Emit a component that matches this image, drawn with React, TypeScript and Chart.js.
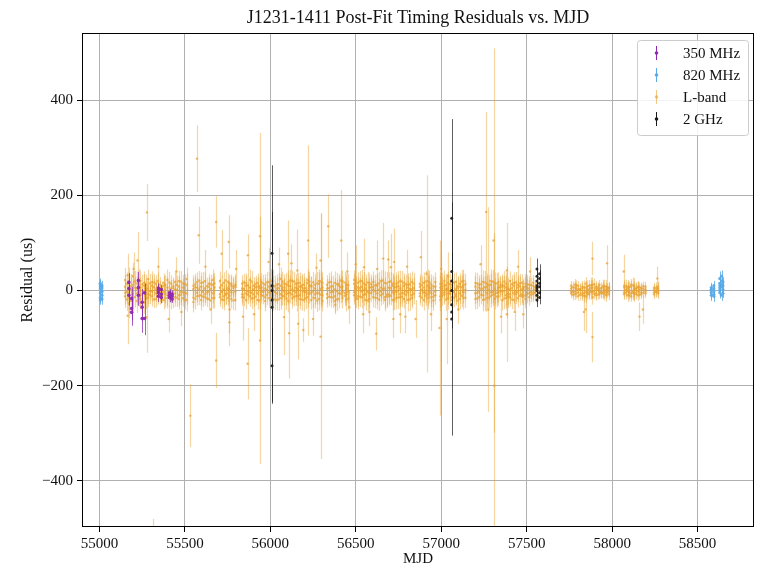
import React, { useEffect, useRef } from 'react';
import { Chart, registerables } from 'chart.js';

Chart.register(...registerables);

const FONT = '"Liberation Serif", "Times New Roman", serif';

const titleText = 'J1231-1411 Post-Fit Timing Residuals vs. MJD';
const xLabel = 'MJD';
const yLabel = 'Residual (us)';
const xTicks = [55000, 55500, 56000, 56500, 57000, 57500, 58000, 58500];
const yTicks = [-400, -200, 0, 200, 400];
const seriesLabels = ['350 MHz', '820 MHz', 'L-band', '2 GHz'];

// ---- L-band, set A: per-epoch TOAs (same MJD, several residuals), typical error per epoch
const lbandEpochMjdA = [
  55150, 55172, 55195, 55218, 55240, 55262, 55285, 55308, 55330, 55352, 55375, 55398, 55420, 55443, 55465, 55488, 55510,
  55550, 55572, 55595, 55618, 55640, 55662, 55705, 55728, 55750, 55772, 55795,
  55835, 55858, 55880, 55903, 55925, 55948, 55970, 55992, 56015, 56038, 56060, 56082, 56105, 56128, 56150, 56172, 56195,
  56218, 56240, 56262, 56285, 56305, 56332, 56355, 56378, 56400, 56422, 56445,
  56490, 56512, 56535, 56558, 56580, 56602, 56625, 56648, 56670, 56692, 56715, 56738, 56760, 56782, 56805, 56828,
  56875, 56898, 56920, 56942, 56965, 56995, 57018, 57040, 57062, 57085, 57108, 57130,
  57200, 57222, 57245, 57268, 57290, 57312, 57335, 57358, 57380, 57402, 57425, 57448, 57470, 57492, 57515, 57538, 57558,
  57760, 57780, 57800, 57825, 57845, 57865, 57885, 57905, 57925, 57945, 57965, 57980,
  58070, 58090, 58110, 58130, 58150, 58170, 58195, 58245, 58268,
];
const lbandEpochResA = [
  [8, -12, 22, -5], [-15, 5, 18, -28], [12, -8, -20, 30], [-6, 15, -22, 4], [20, -10, 6, -18], [-25, 10, -4, 16],
  [5, -15, 24, -8], [-12, 18, -2, 10], [14, -6, -18, 2], [-8, 12, 4, -14], [10, -20, 16, -4], [-16, 6, 22, -10],
  [4, -8, 14, -22], [18, -14, 2, -6], [-10, 20, -18, 8], [6, -4, 15, -16], [-20, 12, -6, 24],
  [10, -15, 3, -24], [-5, 18, -12, 6], [16, -10, 8, -20], [-14, 4, 20, -8], [8, -18, -2, 14], [-6, 12, -16, 22],
  [20, -8, 6, -14], [-12, 16, -20, 2], [4, -6, 18, -16], [-18, 10, -4, 14], [12, -20, 8, -2],
  [-8, 14, -14, 4], [16, -6, -20, 10], [-4, 22, -12, 6], [10, -16, 2, -8], [-20, 8, 16, -6], [6, -10, -2, 18],
  [-14, 12, 4, -22], [18, -4, -16, 8], [-10, 6, 20, -18], [4, -20, 12, -6], [-16, 10, -8, 24], [14, -12, 6, -2],
  [-6, 18, -22, 10], [20, -8, 2, -16], [-12, 14, -4, 6], [8, -18, 16, -10], [-20, 4, 12, -2],
  [16, -6, -14, 22], [-4, 10, -20, 8], [12, -16, 4, -8], [-18, 20, -6, 14], [6, -10, 16, -22],
  [-8, 12, -16, 4], [18, -4, 8, -14], [-12, 16, -22, 2], [10, -6, 14, -18], [-16, 8, -2, 20], [4, -20, 12, -8],
  [-10, 14, -4, 22], [16, -12, 6, -18], [-2, 20, -14, 8], [12, -8, -20, 4], [-18, 6, 16, -6], [8, -14, 2, 18],
  [-6, 12, -16, 10], [20, -2, -10, 6], [-14, 16, 4, -20], [6, -8, 18, -12], [-20, 10, -4, 14], [14, -16, 8, -2],
  [-8, 4, 20, -14], [10, -18, -6, 16], [-4, 12, -20, 6], [18, -10, 2, -16],
  [-12, 8, 14, -6], [6, -20, -4, 16], [-16, 10, 20, -8], [12, -6, -14, 4], [-2, 18, -10, 8],
  [14, -12, 6, -20], [-8, 20, -4, 10], [4, -16, 16, -6], [-14, 6, -20, 12], [18, -8, 2, -12], [-6, 14, -18, 8],
  [10, -4, 20, -16],
  [-18, 8, -6, 16], [6, -14, 12, -2], [-10, 18, -20, 4], [14, -6, 8, -16], [-4, 12, -12, 20], [16, -18, 4, -8],
  [-12, 6, 18, -4], [8, -20, -2, 12], [-16, 14, 6, -10], [2, -8, 20, -14], [-20, 10, -6, 16], [12, -4, -16, 6],
  [-8, 16, 2, -12], [14, -10, 8, -18], [-6, 12, -14, 4], [10, -8, 16, -4], [-12, 6, -2, 12],
  [4, -6, 10, -2], [-8, 6, -2, 12], [10, -4, -12, 2], [-6, 8, 4, -10], [6, -12, 14, -4], [-4, 10, -8, 2],
  [12, -2, -14, 6], [-10, 4, 8, -6], [2, -8, 12, -2], [-6, 10, -4, 6], [8, -10, 2, -4], [-2, 6, -8, 4],
  [6, -4, 10, -8], [-10, 4, -2, 8], [8, -6, 12, -12], [-4, 10, -8, 2], [6, -2, -10, 8], [-8, 4, 6, -4],
  [2, -6, 8, -2], [-4, 6, 2, -8], [8, -2, -6, 4],
];
const lbandEpochErrA = [
  25, 30, 28, 25, 22, 24, 20, 22, 18, 16, 20, 22, 18, 20, 22, 18, 24,
  22, 20, 22, 18, 20, 22, 20, 22, 18, 20, 22,
  18, 20, 22, 18, 20, 18, 22, 20, 24, 22, 24, 20, 24, 22, 20, 22, 24,
  22, 20, 22, 24, 22, 20, 22, 24, 20, 22, 24,
  20, 22, 24, 22, 20, 22, 24, 22, 24, 20, 22, 24, 22, 20, 24, 22,
  20, 22, 24, 22, 20, 24, 22, 24, 22, 20, 22, 24,
  22, 20, 24, 22, 24, 22, 20, 22, 24, 20, 22, 20, 18, 20, 18, 16, 14,
  10, 12, 10, 12, 14, 12, 16, 12, 10, 12, 14, 12,
  12, 14, 12, 16, 12, 10, 10, 10, 12,
];

// ---- L-band, set B: epochs in between
const lbandEpochMjdB = [
  55161, 55184, 55206, 55229, 55251, 55274, 55296, 55319, 55341, 55364, 55386, 55409, 55432, 55454, 55477, 55499,
  55561, 55584, 55606, 55629, 55651, 55673, 55716, 55739, 55761, 55784,
  55846, 55869, 55891, 55914, 55937, 55959, 55981, 56004, 56027, 56049, 56071, 56094, 56116, 56139, 56161, 56184, 56206, 56229, 56251, 56274, 56296,
  56343, 56366, 56389, 56411, 56434, 56456,
  56501, 56524, 56546, 56569, 56591, 56614, 56636, 56659, 56681, 56704, 56726, 56749, 56771, 56794, 56816, 56839,
  56886, 56909, 56931, 56954, 57006, 57029, 57051, 57074, 57096, 57119, 57141,
  57211, 57234, 57256, 57279, 57301, 57324, 57346, 57369, 57391, 57414, 57436, 57459, 57481, 57504, 57526, 57548,
  57770, 57790, 57812, 57835, 57855, 57875, 57895, 57915, 57935, 57955, 57972,
  58080, 58100, 58120, 58140, 58160, 58182, 58256,
];
const lbandEpochResB = [
  [-3, 14, -19], [9, -22, 2], [-14, 6, 19], [21, -4, -11], [-7, 13, -24], [3, -17, 11], [15, -9, -1], [-19, 7, 17],
  [5, -12, 20], [-10, 3, -6], [12, -7, -16], [-2, 17, -13], [9, -19, 5], [-15, 11, 1], [19, -3, -9], [-6, 14, -20],
  [7, -18, 13], [-11, 2, 21], [17, -13, -3], [-4, 9, -17], [13, -21, 3], [-16, 7, 15], [11, -3, -19], [-7, 21, -9],
  [15, -11, 1], [-21, 5, 9],
  [3, -15, 17], [-9, 11, -1], [19, -5, -17], [-13, 7, 13], [5, -21, 9], [-3, 15, -11], [17, -9, 1], [-15, 21, -5],
  [9, -3, -19], [-19, 13, 5], [1, -11, 19], [13, -17, -7], [-5, 9, 21], [19, -13, -1], [-11, 3, 15], [7, -19, 11],
  [-17, 5, -3], [11, -7, 19], [-1, 17, -15], [15, -5, -21], [-9, 19, 3],
  [5, -13, 17], [-15, 9, -3], [13, -1, -19], [-7, 21, 7], [17, -11, -5], [-3, 11, -17],
  [9, -17, 3], [-13, 5, 19], [1, -9, 15], [17, -21, -3], [-5, 13, 7], [11, -1, -15], [-19, 15, 1], [3, -7, 21],
  [15, -13, -9], [-11, 19, 5], [7, -3, -19], [-15, 9, 17], [19, -5, -13], [-1, 13, -9], [13, -19, 3], [-7, 5, 15],
  [11, -15, 1], [-5, 19, -11], [17, -3, 7], [-13, 9, -21], [5, -11, 15], [-19, 3, 11], [13, -7, -1], [-3, 17, -15],
  [9, -21, 5], [-11, 7, 19], [1, -15, 13],
  [15, -5, -17], [-9, 13, 3], [7, -19, 17], [-15, 1, 11], [19, -9, -3], [-5, 15, -13], [11, -1, 7], [-17, 9, 19],
  [3, -13, -7], [13, 5, -19], [-7, 17, -1], [9, -11, 15], [-13, 3, 7], [5, -7, 13], [-9, 11, -3], [7, -5, 1],
  [-3, 7, -9], [5, -7, 11], [-9, 3, 1], [7, -5, -11], [-1, 9, -7], [11, -3, 5], [-7, 13, -1], [3, -9, 7],
  [-5, 5, -3], [9, -1, -7], [-3, 7, 3],
  [-5, 9, 1], [7, -3, -9], [-1, 11, -5], [5, -7, 3], [-9, 1, 7], [3, -5, 9], [-3, 5, -1],
];
const lbandEpochErrB = [
  24, 26, 22, 24, 20, 22, 20, 18, 18, 16, 20, 22, 18, 20, 22, 20,
  22, 20, 22, 18, 20, 22, 20, 22, 18, 20,
  18, 20, 22, 18, 20, 18, 22, 24, 22, 24, 20, 24, 22, 20, 22, 24, 22, 20, 22, 24, 22,
  20, 22, 24, 20, 22, 24,
  20, 22, 24, 22, 20, 22, 24, 22, 24, 20, 22, 24, 22, 20, 24, 22,
  20, 22, 24, 22, 22, 24, 22, 20, 22, 24, 22,
  22, 20, 24, 22, 24, 22, 20, 22, 24, 20, 22, 20, 18, 20, 16, 14,
  12, 10, 12, 14, 12, 16, 12, 10, 12, 14, 12,
  14, 12, 16, 12, 10, 10, 12,
];

// ---- L-band: individual TOAs with large uncertainties
const lbandOutMjd = [
  55165, 55223, 55278, 55165, 55276, 55311, 55405, 55532, 55571, 55581, 55683, 55683, 55715, 55757, 55761, 55761,
  55840, 55869, 55867, 55940, 55940, 56080, 56104, 56110, 56123, 56158, 56163, 56193, 56221, 56294, 56294, 56339,
  56380, 56415, 56450, 56462, 56543, 56548, 56620, 56625, 56660, 56705, 56725, 56760, 56790, 56881, 56850, 56914,
  56990, 57032, 57040, 57100, 57263, 57275, 57306, 57310, 57384, 57384, 57430, 57480,
  57885, 57885, 57970, 57845, 57835, 58068, 58180, 58160, 58265,
  55200, 55345, 55450, 55480, 55620, 55650, 55800, 55905, 55990, 56050, 56250, 56270, 56500, 56580, 56690, 56720,
  56800, 56940, 57000, 57230, 57350, 57450, 57520,
];
const lbandOutRes = [
  32, 63, 164, -53, -56, -570, -60, -263, 277, 116, 144, -147, 77, 102, -40, -67,
  -55, 74, -154, 114, -105, -56, 77, -90, 57, 42, -70, -83, 105, 63, -97, 135,
  -30, 105, 40, -35, -50, 49, -91, 45, 67, 49, 60, -50, -55, 70, -60, 35,
  -79, -60, 30, -40, 165, -40, 105, -200, 42, -50, -45, -50,
  67, -98, 57, -40, -45, 40, -40, -55, 25,
  45, 50, 40, -45, 50, -40, 45, -50, 60, 55, -60, 48, 55, -45, 65, -60,
  50, -50, 45, 55, -55, 50, 40,
];
const lbandOutErr = [
  45, 60, 60, 60, 75, 90, 28, 66, 70, 60, 54, 58, 50, 56, 50, 50,
  50, 44, 75, 217, 260, 80, 70, 95, 40, 86, 75, 25, 200, 100, 257, 67,
  20, 106, 40, 35, 40, 60, 35, 60, 75, 70, 70, 40, 35, 55, 40, 207,
  184, 95, 50, 30, 210, 215, 404, 320, 100, 100, 40, 30,
  35, 53, 38, 50, 40, 35, 30, 30, 25,
  35, 40, 30, 30, 35, 30, 40, 35, 30, 35, 35, 30, 40, 30, 40, 40,
  35, 35, 30, 40, 35, 35, 30,
];

// ---- 350 MHz
const mhz350Mjd = [55172, 55172, 55172, 55188, 55188, 55188, 55228, 55228, 55228, 55250, 55250, 55250, 55264, 55264,
  55345, 55345, 55345, 55345, 55362, 55362, 55362, 55410, 55410, 55410, 55425, 55425, 55425];
const mhz350Res = [17, 4, -10, -17, -38, -46, 21, 6, -10, -25, -59, -35, -5, -59,
  0, -5, -12, 5, -8, -15, 2, -5, -10, -15, -8, -12, -18];
const mhz350Err = [20, 18, 22, 25, 25, 28, 18, 20, 22, 28, 30, 30, 20, 35,
  10, 10, 12, 10, 10, 12, 10, 8, 8, 10, 8, 8, 8];

// ---- 820 MHz
const mhz820Mjd = [55005, 55005, 55005, 55005, 55005, 55005, 55005, 55015, 55015, 55015, 55015, 55015,
  58580, 58580, 58580, 58580, 58580, 58595, 58595, 58595, 58595, 58595,
  58630, 58630, 58630, 58630, 58630, 58630, 58640, 58640, 58640, 58640, 58640, 58648, 58648, 58648, 58648];
const mhz820Res = [-5, 8, -15, 12, -20, 3, 15, -10, 5, -2, 10, -18,
  -5, 2, -10, 6, 0, -8, 4, -2, 10, -12,
  5, 15, 25, 0, -5, 10, 20, 8, -10, 12, 30, 2, 10, -6, 18];
const mhz820Err = [10, 10, 12, 10, 10, 8, 10, 10, 8, 10, 10, 12,
  12, 10, 12, 10, 10, 10, 10, 8, 10, 12,
  15, 14, 15, 12, 12, 14, 12, 12, 12, 12, 12, 10, 10, 10, 10];

// ---- 2 GHz
const ghz2Mjd = [56010, 56010, 56010, 56010, 56010, 56010,
  57061, 57061, 57061, 57061, 57061, 57061, 57061,
  57560, 57560, 57560, 57560, 57560, 57560, 57560, 57560, 57575, 57575, 57575, 57575, 57575, 57575];
const ghz2Res = [78, -35, -158, 0, 10, -20,
  152, -60, 0, 20, -30, 40, -45,
  -10, 5, 20, 30, 45, -20, 10, 0, 15, -5, 25, 35, -15, 8];
const ghz2Err = [185, 200, 80, 40, 30, 25,
  208, 245, 30, 25, 30, 40, 35,
  15, 12, 15, 18, 22, 15, 12, 10, 15, 12, 18, 20, 14, 10];

const COLORS = {
  purple: [142, 40, 178],
  blue: [88, 170, 232],
  orange: [232, 163, 52],
  black: [25, 25, 25],
};
const rgba = (c: number[], a: number) => `rgba(${c[0]},${c[1]},${c[2]},${a})`;

type Pt = { x: number; y: number; e: number };

function zipPoints(m: number[], r: number[], e: number[]): Pt[] {
  return m.map((x, i) => ({ x, y: r[i], e: e[i] }));
}

function epochPoints(m: number[], r: number[][], e: number[]): Pt[] {
  const pts: Pt[] = [];
  m.forEach((x, i) => {
    (r[i] || []).forEach((y) => pts.push({ x, y, e: e[i] ?? 20 }));
  });
  return pts;
}

function lbandPoints(): Pt[] {
  return epochPoints(lbandEpochMjdA, lbandEpochResA, lbandEpochErrA)
    .concat(epochPoints(lbandEpochMjdB, lbandEpochResB, lbandEpochErrB))
    .concat(zipPoints(lbandOutMjd, lbandOutRes, lbandOutErr));
}

const errorBarPlugin = {
  id: 'errorBars',
  beforeDatasetDraw(chart: any, args: any) {
    const ds = chart.data.datasets[args.index];
    const { ctx, chartArea } = chart;
    const xs = chart.scales.x;
    const ys = chart.scales.y;
    ctx.save();
    ctx.beginPath();
    ctx.rect(chartArea.left, chartArea.top, chartArea.right - chartArea.left, chartArea.bottom - chartArea.top);
    ctx.clip();
    ctx.strokeStyle = ds.errColor;
    ctx.lineWidth = ds.errWidth || 1;
    ds.data.forEach((p: Pt) => {
      const px = Math.round(xs.getPixelForValue(p.x)) + 0.5;
      ctx.beginPath();
      ctx.moveTo(px, ys.getPixelForValue(p.y + p.e));
      ctx.lineTo(px, ys.getPixelForValue(p.y - p.e));
      ctx.stroke();
    });
    ctx.restore();
  },
};

const framePlugin = {
  id: 'frameTitleLegend',
  afterDraw(chart: any) {
    const { ctx, chartArea } = chart;
    const { left, right, top, bottom } = chartArea;
    ctx.save();
    // frame
    ctx.strokeStyle = '#000';
    ctx.lineWidth = 1;
    ctx.strokeRect(Math.round(left) + 0.5, Math.round(top) + 0.5, Math.round(right - left) - 1, Math.round(bottom - top) - 1);
    // title
    ctx.fillStyle = '#111';
    ctx.font = `18px ${FONT}`;
    ctx.textAlign = 'center';
    ctx.textBaseline = 'middle';
    ctx.fillText(titleText, (left + right) / 2, 18);
    // legend
    const bx = 637, by = 40, bw = 111, bh = 95;
    ctx.fillStyle = 'rgba(255,255,255,0.85)';
    ctx.strokeStyle = '#cccccc';
    ctx.beginPath();
    (ctx as any).roundRect(bx + 0.5, by + 0.5, bw, bh, 3);
    ctx.fill();
    ctx.stroke();
    const cols = [COLORS.purple, COLORS.blue, COLORS.orange, COLORS.black];
    const alphas = [1, 1, 0.6, 1];
    ctx.font = `15px ${FONT}`;
    ctx.textAlign = 'left';
    seriesLabels.forEach((lab, i) => {
      const cy = 53 + i * 22;
      ctx.strokeStyle = rgba(cols[i], alphas[i]);
      ctx.beginPath();
      ctx.moveTo(656.5, cy - 7);
      ctx.lineTo(656.5, cy + 7);
      ctx.stroke();
      ctx.fillStyle = rgba(cols[i], alphas[i]);
      ctx.beginPath();
      ctx.arc(656.5, cy, 1.8, 0, Math.PI * 2);
      ctx.fill();
      ctx.fillStyle = '#111';
      ctx.fillText(lab, 683, cy + 1);
    });
    ctx.restore();
  },
};

export default function App() {
  const ref = useRef<HTMLCanvasElement>(null);
  useEffect(() => {
    if (!ref.current) return;
    const chart = new Chart(ref.current, {
      type: 'scatter',
      data: {
        datasets: [
          {
            label: seriesLabels[0],
            data: zipPoints(mhz350Mjd, mhz350Res, mhz350Err),
            backgroundColor: rgba(COLORS.purple, 0.95),
            borderWidth: 0,
            pointRadius: 1.8,
            errColor: rgba(COLORS.purple, 0.75),
            order: 1,
          } as any,
          {
            label: seriesLabels[1],
            data: zipPoints(mhz820Mjd, mhz820Res, mhz820Err),
            backgroundColor: rgba(COLORS.blue, 0.95),
            borderWidth: 0,
            pointRadius: 1.6,
            errColor: rgba(COLORS.blue, 0.8),
            order: 1,
          } as any,
          {
            label: seriesLabels[2],
            data: lbandPoints(),
            backgroundColor: rgba(COLORS.orange, 0.75),
            borderWidth: 0,
            pointRadius: 1.2,
            errColor: rgba(COLORS.orange, 0.45),
            errWidth: 1.2,
            order: 3,
          } as any,
          {
            label: seriesLabels[3],
            data: zipPoints(ghz2Mjd, ghz2Res, ghz2Err),
            backgroundColor: rgba(COLORS.black, 0.9),
            borderWidth: 0,
            pointRadius: 1.5,
            errColor: rgba(COLORS.black, 0.7),
            order: 0,
          } as any,
        ],
      },
      options: {
        animation: false,
        responsive: false,
        devicePixelRatio: 1,
        layout: { padding: { top: 33, right: 4, left: 0, bottom: 0 } },
        plugins: {
          legend: { display: false },
          tooltip: { enabled: false },
          title: { display: false },
        },
        scales: {
          x: {
            type: 'linear',
            min: 54898,
            max: 58830,
            z: 1,
            afterFit: (s: any) => { s.height = 39; },
            afterBuildTicks: (s: any) => { s.ticks = xTicks.map((v) => ({ value: v })); },
            grid: { color: '#b0b0b0', lineWidth: 1, tickColor: '#000', tickLength: 5 },
            border: { display: false },
            ticks: {
              font: { family: FONT, size: 15 },
              color: '#111',
              padding: 3,
              maxRotation: 0,
              callback: (v: any) => String(v),
            },
            title: {
              display: true,
              text: xLabel,
              font: { family: FONT, size: 15, lineHeight: 1 },
              color: '#111',
              padding: { top: 0, bottom: -1 },
            },
          },
          y: {
            type: 'linear',
            min: -497,
            max: 541,
            z: 1,
            afterFit: (s: any) => { s.width = 82; },
            afterBuildTicks: (s: any) => { s.ticks = yTicks.map((v) => ({ value: v })); },
            grid: { color: '#b0b0b0', lineWidth: 1, tickColor: '#000', tickLength: 5 },
            border: { display: false },
            ticks: {
              font: { family: FONT, size: 15 },
              color: '#111',
              padding: 4,
              callback: (v: any) => (v < 0 ? '\u2212' + Math.abs(v) : String(v)),
            },
            title: {
              display: true,
              text: yLabel,
              font: { family: FONT, size: 16 },
              color: '#111',
              padding: { top: 18, bottom: 0 },
            },
          },
        },
      } as any,
      plugins: [errorBarPlugin, framePlugin],
    });
    return () => chart.destroy();
  }, []);
  return (
    <div style={{ position: 'fixed', left: 0, top: 0, width: 758, height: 566, background: '#fff' }}>
      <canvas ref={ref} width={758} height={566} style={{ display: 'block' }} />
    </div>
  );
}
